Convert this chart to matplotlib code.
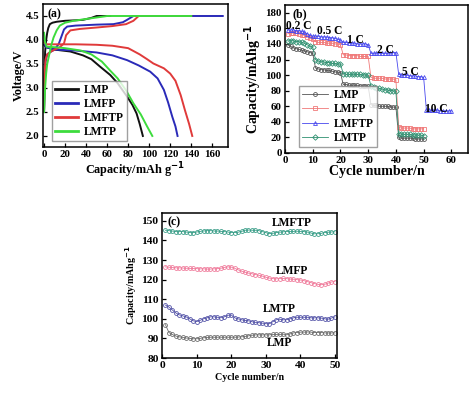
import matplotlib
matplotlib.use("Agg")
import matplotlib.pyplot as plt
import numpy as np

plt.rcParams['font.family'] = ['Liberation Serif', 'DejaVu Serif']
plt.rcParams['font.weight'] = 'bold'
plt.rcParams['axes.labelweight'] = 'bold'
plt.rcParams['mathtext.default'] = 'bf'

# ---------------- Panel (a) data ----------------
a_names = ["LMP", "LMFP", "LMFTP", "LMTP"]
a_colors = ["#111111", "#2a2ab8", "#e03a3a", "#3ddc3d"]

lmp_chg_cap = [0, 0.5, 1, 2, 3, 4, 5.5, 8, 12, 20, 30, 37, 45, 50, 63]
lmp_chg_v = [2.5, 3.3, 3.75, 4.0, 4.15, 4.25, 4.33, 4.36, 4.38, 4.40, 4.41, 4.42, 4.46, 4.5, 4.5]
lmfp_chg_cap = [0, 0.5, 1.5, 3, 6, 10, 14, 17, 19, 22, 30, 50, 66, 75, 79, 85, 170]
lmfp_chg_v = [2.5, 3.2, 3.55, 3.7, 3.75, 3.8, 3.92, 4.1, 4.22, 4.28, 4.30, 4.32, 4.33, 4.37, 4.42, 4.5, 4.5]
lmftp_chg_cap = [0, 0.5, 1.5, 3, 6, 10, 15, 19, 21, 25, 34, 50, 65, 78, 85, 90, 140]
lmftp_chg_v = [2.5, 3.3, 3.6, 3.7, 3.75, 3.8, 3.85, 3.93, 4.1, 4.2, 4.23, 4.26, 4.29, 4.33, 4.4, 4.5, 4.5]
lmtp_chg_cap = [0, 1, 2, 3, 5, 7, 9, 12, 15, 20, 28, 44, 60, 140]
lmtp_chg_v = [2.5, 3.0, 3.3, 3.5, 3.7, 3.9, 4.05, 4.2, 4.3, 4.36, 4.4, 4.45, 4.5, 4.5]

lmp_dis_cap = [0, 2, 10, 25, 37, 45, 53, 63, 70, 79, 84, 88, 91, 94]
lmp_dis_v = [3.9, 3.85, 3.8, 3.76, 3.68, 3.6, 3.45, 3.27, 3.1, 2.82, 2.65, 2.47, 2.25, 2.0]
lmfp_dis_cap = [0, 2, 10, 30, 50, 65, 79, 90, 101, 108, 114, 118, 122, 125, 127]
lmfp_dis_v = [3.95, 3.85, 3.8, 3.78, 3.74, 3.68, 3.58, 3.47, 3.34, 3.2, 2.96, 2.7, 2.4, 2.2, 2.0]
lmftp_dis_cap = [0, 2, 10, 30, 50, 65, 80, 91, 98, 104, 114, 120, 125, 130, 134, 138, 141]
lmftp_dis_v = [3.95, 3.91, 3.91, 3.91, 3.9, 3.88, 3.83, 3.7, 3.6, 3.51, 3.41, 3.3, 3.15, 2.85, 2.54, 2.25, 2.0]
lmtp_dis_cap = [0, 1, 2.5, 10, 20, 35, 45, 55, 63, 70, 78, 85, 92, 98, 103]
lmtp_dis_v = [4.15, 3.95, 3.86, 3.85, 3.83, 3.78, 3.7, 3.55, 3.36, 3.2, 2.95, 2.68, 2.45, 2.2, 2.0]

a_charge = [(lmp_chg_cap, lmp_chg_v), (lmfp_chg_cap, lmfp_chg_v),
            (lmftp_chg_cap, lmftp_chg_v), (lmtp_chg_cap, lmtp_chg_v)]
a_discharge = [(lmp_dis_cap, lmp_dis_v), (lmfp_dis_cap, lmfp_dis_v),
               (lmftp_dis_cap, lmftp_dis_v), (lmtp_dis_cap, lmtp_dis_v)]

# ---------------- Panel (b) data ----------------
b_names = ["LMP", "LMFP", "LMFTP", "LMTP"]
b_colors = ["#555555", "#f07878", "#4848ee", "#2e9070"]
b_markers = ["o", "s", "^", "D"]
b_lmp = [139, 137, 135, 134, 133, 132, 131, 130, 129, 128,
         109, 108, 107, 107, 106, 106, 105, 104, 104, 103,
         88, 88, 87, 87, 87, 87, 86, 86, 86, 86,
         62, 61, 61, 60, 60, 60, 60, 59, 59, 59,
         20, 19, 19, 19, 19, 19, 18, 18, 18, 18]
b_lmfp = [153, 154, 154, 154, 153, 152, 151, 149, 147, 146,
          143, 142, 142, 142, 141, 141, 141, 140, 140, 139,
          126, 126, 125, 125, 125, 125, 124, 124, 124, 124,
          97, 96, 96, 96, 96, 95, 95, 95, 95, 94,
          33, 32, 32, 32, 32, 31, 31, 31, 31, 31]
b_lmftp = [158, 158, 158, 157, 157, 156, 155, 153, 151, 150,
           150, 150, 149, 149, 149, 148, 148, 147, 146, 145,
           142, 142, 141, 141, 141, 140, 140, 140, 140, 139,
           128, 128, 128, 128, 128, 128, 128, 128, 129, 129,
           101, 100, 100, 100, 99, 99, 99, 98, 98, 97,
           55, 55, 55, 55, 55, 54, 54, 54, 54, 54]
b_lmtp = [144, 144, 144, 143, 143, 142, 141, 139, 137, 136,
          120, 118, 117, 117, 116, 116, 115, 115, 114, 114,
          102, 101, 101, 101, 101, 101, 101, 100, 100, 100,
          86, 85, 84, 83, 82, 81, 81, 80, 80, 79,
          25, 24, 24, 24, 24, 23, 23, 23, 23, 22]
b_series = [b_lmp, b_lmfp, b_lmftp, b_lmtp]
b_rates = ["0.2 C", "0.5 C", "1 C", "2 C", "5 C", "10 C"]
b_rate_pos = [(0.5, 163), (16, 157), (25.5, 145), (36.3, 132), (45.3, 104), (54.7, 56)]

# ---------------- Panel (c) data ----------------
c_names = ["LMFTP", "LMFP", "LMTP", "LMP"]
c_colors = ["#3a9e88", "#f07c9c", "#5454a8", "#6e6e6e"]
c_lmftp = [145.2, 145, 144.8, 144.5, 144.5, 144.5, 144.3, 144, 144, 144.3,
           144.6, 144.8, 145, 145, 144.8, 144.8, 144.6, 144.5, 144.3, 144,
           144, 144.2, 144.6, 145.2, 145.3, 145.2, 145.2, 145, 144.5, 144,
           143.5, 143.6, 144, 144.2, 144.4, 144.5, 144.6, 144.6, 144.7, 144.6,
           144.5, 144.3, 143.8, 143.4, 143.4, 143.6, 144, 144.2, 144.3, 144.4]
c_lmfp = [126.5, 126.3, 126.2, 126, 126, 125.9, 125.8, 125.7, 125.7, 125.6,
          125.5, 125.5, 125.4, 125.4, 125.5, 125.6, 125.8, 126.2, 126.5, 126.4,
          125.8, 125, 124.3, 123.8, 123.3, 123, 122.6, 122.2, 121.8, 121.2,
          120.8, 120.5, 120.4, 120.5, 120.6, 120.5, 120.3, 120.2, 120, 119.8,
          119.5, 119, 118.5, 118, 117.6, 117.4, 117.6, 118.2, 118.8, 119]
c_lmtp = [107, 106, 104.5, 103, 102, 101.5, 101, 100, 99, 98.6,
          99.2, 100, 100.5, 101, 101, 100.8, 100.5, 101, 101.8, 102,
          100.5, 100, 99.5, 99.2, 99, 98.5, 98.2, 98, 97.8, 97.5,
          97.5, 98.5, 99.5, 99.8, 99.5, 99.5, 100, 100.5, 100.8, 100.8,
          100.8, 100.8, 100.5, 100.5, 100.5, 100.4, 100, 99.8, 100.4, 101]
c_lmp = [97, 93, 92, 91.2, 90.8, 90.5, 90.2, 90, 89.8, 89.8,
         90, 90.3, 90.5, 90.6, 90.6, 90.6, 90.6, 90.6, 90.6, 90.6,
         90.6, 90.7, 90.8, 91, 91.3, 91.6, 91.8, 91.8, 91.8, 91.8,
         91.8, 92, 92, 92, 92.2, 91.8, 92.3, 92.8, 93, 93.2,
         93.2, 93.3, 93.2, 93, 93, 93, 92.8, 92.8, 92.8, 92.8]
c_series = [c_lmftp, c_lmfp, c_lmtp, c_lmp]
c_label_pos = [(37.6, 149), (37.6, 124.5), (33.8, 105), (34, 87.5)]

W, H = 477, 394
fig = plt.figure(figsize=(W / 100, H / 100), dpi=100)

def px_axes(l, t, r, b):
    return fig.add_axes([l / W, 1 - b / H, (r - l) / W, (b - t) / H])

TICK = 7.8

def style(ax, tick=TICK):
    for s in ax.spines.values():
        s.set_linewidth(1.1)
    ax.tick_params(direction='in', length=3, width=0.9, labelsize=tick, pad=2.5)
    for lab in ax.get_xticklabels() + ax.get_yticklabels():
        lab.set_fontweight('bold')

# ---- (a)
axa = px_axes(43, 4, 228, 147)
for (cc, cv), (dc, dv), col, nm in zip(a_charge, a_discharge, a_colors, a_names):
    axa.plot(cc, cv, color=col, lw=1.4, label=nm)
    axa.plot(dc, dv, color=col, lw=1.4)
axa.set_xlim(-1, 175)
axa.set_ylim(1.77, 4.75)
axa.set_xticks(np.arange(0, 161, 20))
axa.set_yticks(np.arange(2.0, 4.51, 0.5))
axa.set_yticklabels([f"{v:.1f}" for v in np.arange(2.0, 4.51, 0.5)])
axa.set_xlabel("Capacity/mAh g$^{\\mathbf{-1}}$", fontsize=8.8, labelpad=1)
axa.set_ylabel("Voltage/V", fontsize=8.8, labelpad=1)
axa.text(0.025, 0.97, "(a)", transform=axa.transAxes, fontsize=8.5,
         fontweight='bold', va='top', ha='left')
leg = axa.legend(loc='lower left', bbox_to_anchor=(0.02, 0.0), fontsize=8.3,
                 handlelength=2.0, handletextpad=0.5, labelspacing=0.18,
                 borderpad=0.25, frameon=True, fancybox=False, edgecolor='#888888')
for t in leg.get_texts():
    t.set_fontweight('bold')
for l in leg.get_lines():
    l.set_linewidth(2.0)
style(axa)

# ---- (b)
axb = px_axes(285, 5, 468, 153)
for ser, col, mk, nm in zip(b_series, b_colors, b_markers, b_names):
    cyc = np.arange(1, len(ser) + 1)
    axb.plot(cyc, ser, color=col, lw=0.6, marker=mk, ms=2.8, mfc='none',
             mew=0.6, label=nm)
for txt, (x, y) in zip(b_rates, b_rate_pos):
    ha = 'left' if txt == "0.2 C" else 'center'
    axb.text(x, y, txt, fontsize=8.3, fontweight='bold', ha=ha, va='center')
axb.set_xlim(0, 66)
axb.set_ylim(0, 190)
axb.set_xticks(np.arange(0, 61, 10))
axb.set_yticks(np.arange(0, 181, 20))
axb.set_xlabel("Cycle number/n", fontsize=10, labelpad=0)
axb.set_ylabel("Capacity/mAhg$^{\\mathbf{-1}}$", fontsize=10, labelpad=1)
axb.text(0.04, 0.975, "(b)", transform=axb.transAxes, fontsize=8.5,
         fontweight='bold', va='top', ha='left')
legb = axb.legend(loc='lower left', bbox_to_anchor=(0.045, 0.0), fontsize=8.3,
                  handlelength=2.3, handletextpad=0.5, labelspacing=0.22,
                  borderpad=0.25, frameon=True, fancybox=False, edgecolor='#888888')
for t in legb.get_texts():
    t.set_fontweight('bold')
style(axb)

# ---- (c)
axc = px_axes(162, 213, 337, 358)
for ser, col, nm in zip(c_series, c_colors, c_names):
    cyc = np.arange(1, len(ser) + 1)
    axc.plot(cyc, ser, color=col, lw=0.6, marker='o', ms=2.8, mfc='none', mew=0.6)
for nm, (x, y) in zip(c_names, c_label_pos):
    axc.text(x, y, nm, fontsize=8.3, fontweight='bold', ha='center', va='center')
axc.set_xlim(0, 50.6)
axc.set_ylim(80, 154)
axc.set_xticks(np.arange(0, 51, 10))
axc.set_yticks(np.arange(80, 151, 10))
axc.set_xlabel("Cycle number/n", fontsize=7.2, labelpad=1.5)
axc.set_ylabel("Capacity/mAhg$^{\\mathbf{-1}}$", fontsize=7.2, labelpad=1.5)
axc.text(0.03, 0.975, "(c)", transform=axc.transAxes, fontsize=8.5,
         fontweight='bold', va='top', ha='left')
style(axc, tick=8.2)

fig.savefig("out.png", dpi=100)
